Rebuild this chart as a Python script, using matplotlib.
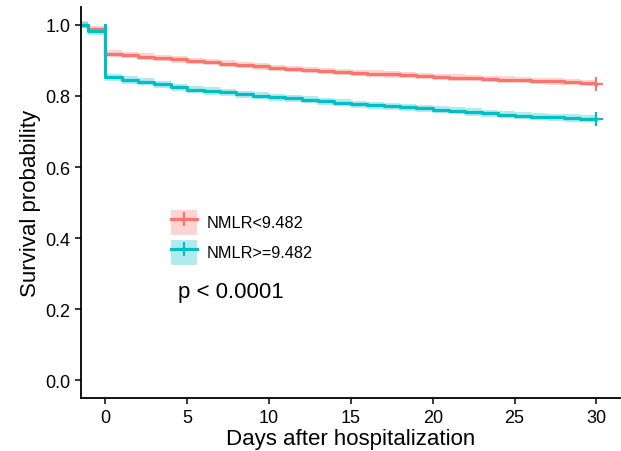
import numpy as np
import matplotlib.pyplot as plt
from matplotlib.patches import Patch
from matplotlib.lines import Line2D

plt.rcParams['font.family'] = ['Liberation Sans', 'DejaVu Sans']

# data (days, survival)
days_pre = [-1.5, -1.05, 0]
days = list(range(0, 31))

low_pre = [1.0, 0.989, 0.989]
low_surv = [0.919, 0.915, 0.911, 0.907, 0.903, 0.899, 0.895, 0.891, 0.887, 0.883,
            0.879, 0.876, 0.873, 0.870, 0.867, 0.865, 0.863, 0.861, 0.859, 0.856,
            0.854, 0.852, 0.850, 0.848, 0.846, 0.845, 0.843, 0.841, 0.839, 0.837,
            0.835]

high_pre = [1.0, 0.982, 1.0]
high_surv = [0.853, 0.845, 0.840, 0.833, 0.825, 0.818, 0.814, 0.810, 0.805, 0.801,
             0.797, 0.793, 0.789, 0.785, 0.781, 0.777, 0.774, 0.771, 0.768, 0.765,
             0.761, 0.758, 0.755, 0.751, 0.747, 0.744, 0.742, 0.740, 0.738, 0.736,
             0.735]

ci_half = [0.009, 0.010]
labels = ['NMLR<9.482', 'NMLR>=9.482']
colors = ['#F8766D', '#00BFC4']
pval_text = 'p < 0.0001'

fig = plt.figure(figsize=(6.21, 4.52), dpi=100)
ax = fig.add_axes([0.130, 0.117, 0.870, 0.865])

groups = [(low_pre, low_surv), (high_pre, high_surv)]
for (pre, surv), c, h in zip(groups, colors, ci_half):
    t = np.array(days_pre + days, dtype=float)
    s = np.array(pre + surv)
    ax.fill_between(t, s - h, s + h, step='post', color=c, alpha=0.3, lw=0)
    ax.step(t, s, where='post', color=c, lw=2.3)
    ax.plot(days[-1], surv[-1], marker='+', color=c, ms=10, mew=1.6)

ax.set_xlim(-1.5, 31.5)
ax.set_ylim(-0.05, 1.05)
ax.set_xticks([0, 5, 10, 15, 20, 25, 30])
ax.set_yticks([0.0, 0.2, 0.4, 0.6, 0.8, 1.0])
ax.set_yticklabels(['0.0', '0.2', '0.4', '0.6', '0.8', '1.0'])
ax.tick_params(labelsize=13, length=4, width=1.1, colors='black')
for side in ['top', 'right']:
    ax.spines[side].set_visible(False)
for side in ['left', 'bottom']:
    ax.spines[side].set_linewidth(1.3)

ax.set_xlabel('Days after hospitalization', fontsize=16, labelpad=2)
ax.set_ylabel('Survival probability', fontsize=16, labelpad=3)

handles = [(Patch(facecolor=c, alpha=0.3, lw=0),
            Line2D([], [], color=c, lw=2.3, marker='+', ms=10, mew=1.6))
           for c in colors]
ax.legend(handles, labels, loc='upper left', bbox_to_anchor=(0.168, 0.482),
          frameon=False, fontsize=11.7, handlelength=1.6, handleheight=2.0,
          labelspacing=0.3, handletextpad=0.55, borderpad=0, borderaxespad=0)

ax.text(4.45, 0.25, pval_text, fontsize=16, va='center', ha='left')

fig.savefig('out.png', dpi=100)
